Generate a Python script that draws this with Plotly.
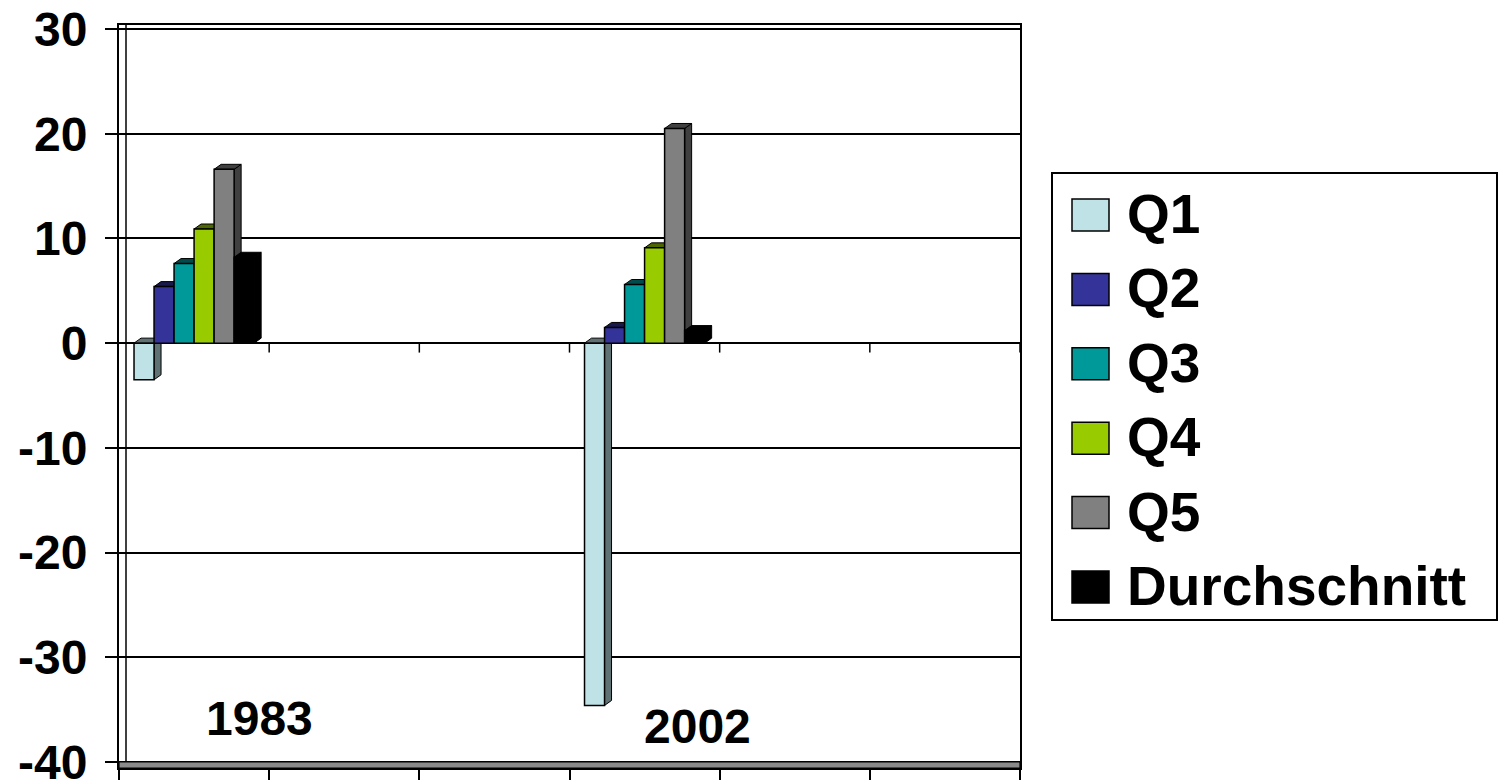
import plotly.graph_objects as go

# ---------------- data ----------------
years = ["1983", "2002"]
year_slot = [0, 3]          # slot of each year on the 6-slot category axis
n_slots = 6
series = ["Q1", "Q2", "Q3", "Q4", "Q5", "Durchschnitt"]
q1 = [-3.5, -34.6]
q2 = [5.4, 1.5]
q3 = [7.6, 5.6]
q4 = [10.9, 9.1]
q5 = [16.6, 20.5]
durchschnitt = [8.2, 1.2]
values = [q1, q2, q3, q4, q5, durchschnitt]
colors = ["#BEE2E6", "#333399", "#009999", "#99CC00", "#808080", "#000000"]
y_ticks = [30, 20, 10, 0, -10, -20, -30, -40]

# ---------------- layout geometry ----------------
W_PX, H_PX = 1503, 784       # window size
L, R, T, B = 119, 1020, 25, 768          # plot area in window pixels
PW, PH = R - L, B - T
Y_MIN, Y_MAX = -40.573, 30.382
FONT = "Liberation Sans, Arial, sans-serif"

def px_x(x):
    return (x - L) / PW

def px_y(y):
    return (B - y) / PH

def darker(hexc, f=0.5):
    h = hexc.lstrip("#")
    r, g, b = (int(h[i:i + 2], 16) for i in (0, 2, 4))
    return "#%02x%02x%02x" % (int(r * f), int(g * f), int(b * f))

group_w = 0.8
bw = group_w / len(series)
dx = 7 / (PW / n_slots)                 # depth offset in category units
dy = 5 / (PH / (Y_MAX - Y_MIN))          # depth offset in value units

fig = go.Figure()
shapes = []

for i, (name, vals, col) in enumerate(zip(series, values, colors)):
    off = -group_w / 2 + i * bw
    fig.add_trace(go.Bar(
        x=year_slot, y=vals, name=name, width=bw, offset=off,
        marker=dict(color=col, line=dict(color="black", width=1.5)),
        showlegend=False,
    ))
    dk = darker(col) if col != "#000000" else "#000000"
    for s, v in zip(year_slot, vals):
        x0 = s + off
        x1 = x0 + bw
        top = max(v, 0)
        bot = min(v, 0)
        side = (f"M {x1},{bot} L {x1},{top} L {x1 + dx},{top + dy} "
                f"L {x1 + dx},{bot + dy} Z")
        topf = (f"M {x0},{top} L {x0 + dx},{top + dy} L {x1 + dx},{top + dy} "
                f"L {x1},{top} Z")
        for p in (side, topf):
            shapes.append(dict(type="path", path=p, xref="x", yref="y",
                               fillcolor=dk, line=dict(color="black", width=1),
                               layer="between"))

# floor band at the bottom
shapes.append(dict(type="rect", xref="x", yref="y", x0=-0.5, x1=n_slots - 0.5,
                   y0=Y_MIN, y1=-40, fillcolor="#8a8a8a",
                   line=dict(color="black", width=1.2), layer="above"))
# inner wall edge at the left
shapes.append(dict(type="line", xref="x", yref="y", x0=-0.5 + dx, x1=-0.5 + dx,
                   y0=-40, y1=Y_MAX, line=dict(color="black", width=1.5),
                   layer="between"))
# small ticks along the zero line
for k in range(1, n_slots + 1):
    tv = -0.5 + k
    shapes.append(dict(type="line", xref="x", yref="y", x0=tv, x1=tv,
                       y0=0, y1=-0.9, line=dict(color="black", width=1.5),
                       layer="between"))

# custom legend
shapes.append(dict(type="rect", xref="paper", yref="paper",
                   x0=px_x(1052), x1=px_x(1497), y0=px_y(620), y1=px_y(173),
                   line=dict(color="black", width=2), fillcolor="white",
                   layer="above"))
annotations = []
step = 74.4
for k, (name, col) in enumerate(zip(series, colors)):
    ytop = 199 + k * step
    shapes.append(dict(type="rect", xref="paper", yref="paper",
                       x0=px_x(1072), x1=px_x(1109),
                       y0=px_y(ytop + 32), y1=px_y(ytop),
                       fillcolor=col, line=dict(color="black", width=1.5),
                       layer="above"))
    annotations.append(dict(x=px_x(1125), y=px_y(ytop + 15), xref="paper",
                            yref="paper", text=name, showarrow=False,
                            xanchor="left", yanchor="middle",
                            font=dict(family=FONT, size=55, color="black",
                                      weight=700)))

# year labels inside the plot
for yr, xpos, ypos in zip(years, [0.433, 3.353], [-35.8, -36.6]):
    annotations.append(dict(x=xpos, y=ypos, xref="x", yref="y", text=yr,
                            showarrow=False, xanchor="center", yanchor="middle",
                            font=dict(family=FONT, size=48, color="black",
                                      weight=700)))

fig.update_layout(
    width=W_PX, height=H_PX,
    margin=dict(l=L, r=W_PX - R, t=T, b=H_PX - B, pad=0, autoexpand=False),
    paper_bgcolor="white", plot_bgcolor="white",
    barmode="overlay",
    shapes=shapes, annotations=annotations,
    showlegend=False,
    xaxis=dict(range=[-0.5, n_slots - 0.5],
               tickvals=[-0.5 + k for k in range(n_slots + 1)],
               showticklabels=False, ticks="outside", ticklen=10,
               tickwidth=1.5, tickcolor="black", automargin=False,
               showgrid=False, zeroline=False,
               showline=True, linecolor="black", linewidth=2, mirror=True),
    yaxis=dict(range=[Y_MIN, Y_MAX], tickvals=y_ticks,
               ticktext=[str(v) for v in y_ticks],
               ticks="outside", ticklen=12, tickwidth=2, tickcolor="black",
               ticklabelstandoff=8, automargin=False,
               ticklabeloverflow="allow",
               tickfont=dict(family=FONT, size=48, color="black", weight=700),
               showgrid=True, gridcolor="black", gridwidth=1.5,
               zeroline=False,
               showline=True, linecolor="black", linewidth=2, mirror=True),
)

fig.write_html(
    "out.html",
    config={"displayModeBar": False},
    post_script="document.body.style.margin='0';"
                "document.body.style.overflow='hidden';",
)
